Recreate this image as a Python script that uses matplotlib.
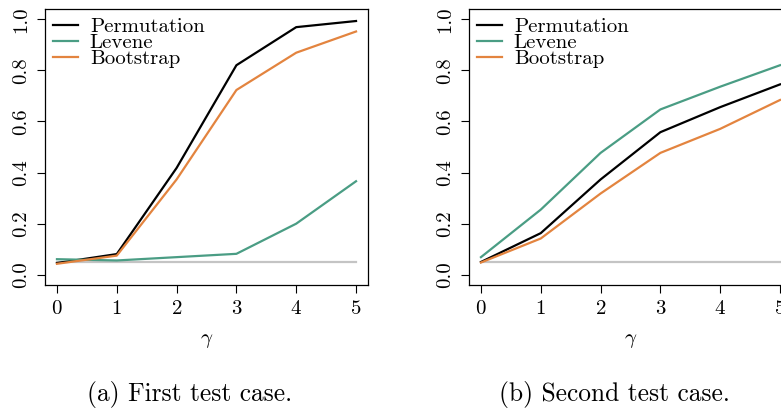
import matplotlib
matplotlib.use("Agg")
import matplotlib.pyplot as plt

plt.rcParams['font.family'] = ['cmr10', 'DejaVu Serif']
plt.rcParams['mathtext.fontset'] = 'cm'
plt.rcParams['axes.formatter.use_mathtext'] = True

gamma = [0, 1, 2, 3, 4, 5]
alpha_level = 0.05

# (a) first test case
perm_a = [0.046, 0.081, 0.418, 0.820, 0.969, 0.993]
levene_a = [0.061, 0.056, 0.069, 0.082, 0.200, 0.366]
boot_a = [0.043, 0.075, 0.373, 0.723, 0.869, 0.952]

# (b) second test case
perm_b = [0.050, 0.163, 0.373, 0.558, 0.656, 0.745]
levene_b = [0.069, 0.255, 0.477, 0.647, 0.736, 0.820]
boot_b = [0.048, 0.142, 0.318, 0.477, 0.571, 0.684]

captions = ["(a) First test case.", "(b) Second test case."]
yticks = [0.0, 0.2, 0.4, 0.6, 0.8, 1.0]

fig = plt.figure(figsize=(7.81, 4.09), dpi=100)
W, H = 781, 409
ax_a = fig.add_axes([45 / W, 1 - 285 / H, 323 / W, 276 / H])
ax_b = fig.add_axes([469 / W, 1 - 285 / H, 323 / W, 276 / H])

panels = [(ax_a, perm_a, levene_a, boot_a), (ax_b, perm_b, levene_b, boot_b)]
for ax, perm, lev, boot in panels:
    ax.plot([gamma[0], gamma[-1]], [alpha_level, alpha_level], color='#c4c4c4', lw=1.6)
    ax.plot(gamma, perm, color='black', lw=1.6, label='Permutation')
    ax.plot(gamma, lev, color='#4a9d84', lw=1.6, label='Levene')
    ax.plot(gamma, boot, color='#e3843f', lw=1.6, label='Bootstrap')
    ax.set_xlim(-0.2, 5.2)
    ax.set_ylim(-0.04, 1.04)
    ax.set_xticks(gamma)
    ax.set_yticks(yticks)
    ax.set_yticklabels(['%.1f' % v for v in yticks], rotation=90, va='center')
    ax.tick_params(direction='out', length=6, width=0.8, labelsize=15, pad=5)
    ax.tick_params(axis='y', pad=5)
    for s in ax.spines.values():
        s.set_linewidth(0.9)
    ax.set_xlabel(r'$\gamma$', fontsize=15, labelpad=10)
    ax.legend(loc='upper left', frameon=False, fontsize=15, handlelength=1.2,
              handletextpad=0.55, labelspacing=-0.12, borderpad=0.0,
              borderaxespad=0.4, bbox_to_anchor=(0.0, 1.0))

fig.text(190 / W, 1 - 394 / H, captions[0], ha='center', va='center', fontsize=18.3)
fig.text(614 / W, 1 - 394 / H, captions[1], ha='center', va='center', fontsize=18.3)

fig.savefig('out.png', dpi=100)
